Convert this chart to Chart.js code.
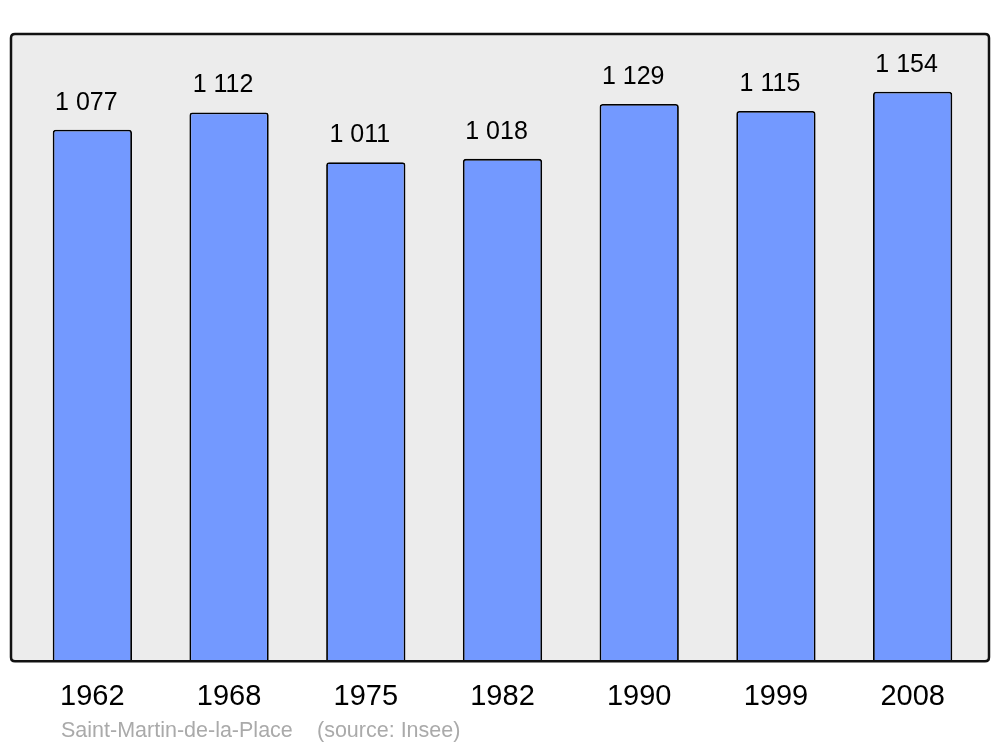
<!DOCTYPE html>
<html>
<head>
<meta charset="utf-8">
<script src="https://cdn.jsdelivr.net/npm/chart.js@4"></script>
<style>
  html, body { margin: 0; padding: 0; background: #ffffff; }
  #wrap { width: 1000px; height: 747px; }
</style>
</head>
<body>
<div id="wrap"><canvas id="myChart" width="1000" height="747"></canvas></div>
<script>
// data
const years = ['1962', '1968', '1975', '1982', '1990', '1999', '2008'];
const population = [1077, 1112, 1011, 1018, 1129, 1115, 1154];
const townName = 'Saint-Martin-de-la-Place';
const sourceText = '(source: Insee)';

const FONT = '"Liberation Sans", Arial, sans-serif';

function fmt(n) {
  return String(n).replace(/\B(?=(\d{3})+(?!\d))/g, ' ');
}

function roundRect(ctx, x, y, w, h, r) {
  ctx.beginPath();
  ctx.moveTo(x + r, y);
  ctx.lineTo(x + w - r, y);
  ctx.quadraticCurveTo(x + w, y, x + w, y + r);
  ctx.lineTo(x + w, y + h - r);
  ctx.quadraticCurveTo(x + w, y + h, x + w - r, y + h);
  ctx.lineTo(x + r, y + h);
  ctx.quadraticCurveTo(x, y + h, x, y + h - r);
  ctx.lineTo(x, y + r);
  ctx.quadraticCurveTo(x, y, x + r, y);
  ctx.closePath();
}

// grey frame behind the bars, border and labels on top
const framePlugin = {
  id: 'frame',
  beforeDatasetsDraw(chart) {
    const { ctx, chartArea } = chart;
    ctx.save();
    roundRect(ctx, chartArea.left - 13, chartArea.top, chartArea.right - chartArea.left + 21, chartArea.bottom - chartArea.top, 4);
    ctx.fillStyle = '#ececec';
    ctx.fill();
    ctx.restore();
  },
  afterDatasetsDraw(chart) {
    const { ctx, chartArea } = chart;
    ctx.save();
    roundRect(ctx, chartArea.left - 13, chartArea.top, chartArea.right - chartArea.left + 21, chartArea.bottom - chartArea.top, 4);
    ctx.lineWidth = 2.5;
    ctx.strokeStyle = '#111111';
    ctx.stroke();

    // value labels
    ctx.fillStyle = '#000000';
    ctx.font = '25px ' + FONT;
    ctx.textAlign = 'center';
    ctx.textBaseline = 'middle';
    chart.getDatasetMeta(0).data.forEach((bar, i) => {
      ctx.fillText(fmt(population[i]), bar.x - 6, bar.y - 27);
    });

    // source line
    ctx.fillStyle = '#aaaaaa';
    ctx.font = '21.5px ' + FONT;
    ctx.textAlign = 'left';
    ctx.fillText(townName, 61, 731);
    ctx.fillText(sourceText, 317, 731);
    ctx.restore();
  }
};

const data = {
  labels: years,
  datasets: [{
    data: population,
    backgroundColor: '#7399ff',
    borderColor: '#000000',
    borderWidth: 1.8,
    borderRadius: { topLeft: 3, topRight: 3 },
    borderSkipped: 'bottom',
    barPercentage: 0.58,
    categoryPercentage: 1
  }]
};

const config = {
  type: 'bar',
  data,
  plugins: [framePlugin],
  options: {
    responsive: false,
    animation: false,
    layout: { padding: { left: 24, right: 19, top: 34, bottom: 15 } },
    plugins: {
      legend: { display: false },
      tooltip: { enabled: false }
    },
    scales: {
      x: {
        grid: { display: false, drawTicks: false, tickLength: 0 },
        border: { display: false },
        ticks: {
          color: '#000000',
          padding: 18,
          font: { family: FONT, size: 29, lineHeight: 1.2 }
        }
      },
      y: {
        display: false,
        min: 0,
        max: 1271
      }
    }
  }
};

const myChart = new Chart(document.getElementById('myChart'), config);
</script>
</body>
</html>
